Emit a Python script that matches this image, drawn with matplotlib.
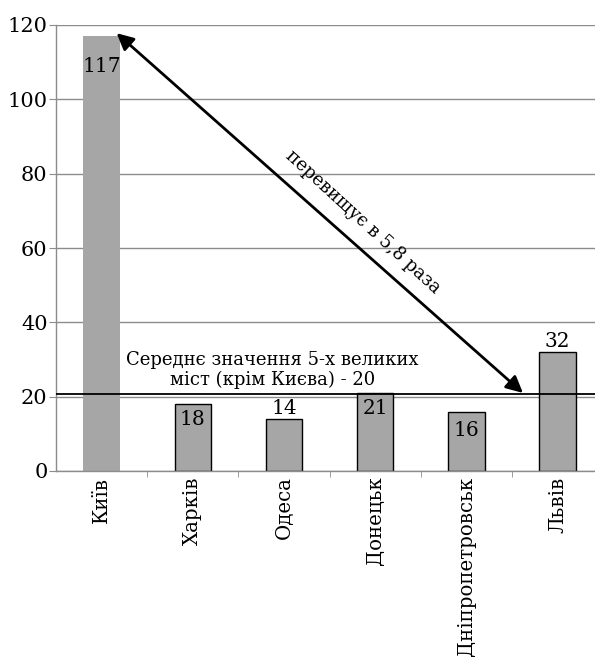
import matplotlib

matplotlib.use("Agg")
import matplotlib.pyplot as plt

# data
cities = ["Київ", "Харків", "Одеса", "Донецьк", "Дніпропетровськ", "Львів"]
values = [117, 18, 14, 21, 16, 32]
avg_value = 20.6
avg_label = "Середнє значення 5-х великих\nміст (крім Києва) - 20"
ratio_label = "перевищує в 5,8 раза"
arrow_from = (0.165, 117.8)
arrow_to = (4.62, 21.0)

# label offsets in points (negative = inside bar)
label_offsets = [-15, -4, 1, -4, -7, 1]

plt.rcParams["font.family"] = ["DejaVu Serif"]

GRID = "#8c8c8c"
BAR = "#a6a6a6"

fig = plt.figure(figsize=(5.95, 6.66), dpi=100)
ax = fig.add_axes([56 / 595, 1 - 471 / 666, 1 - 56 / 595, (471 - 25) / 666])

xs = list(range(len(cities)))
edges = ["none"] + ["black"] * (len(cities) - 1)
ax.bar(xs, values, width=0.4, color=BAR, edgecolor=edges, linewidth=1.0, zorder=2)

for x, v, off in zip(xs, values, label_offsets):
    ax.annotate(str(v), (x, v), xytext=(0, off), textcoords="offset points",
                ha="center", va="bottom" if off > 0 else "top", fontsize=14.5, zorder=4)

ax.set_xlim(-0.5, 5.41)
ax.set_ylim(0, 120)
ax.set_yticks(range(0, 121, 20))
ax.yaxis.grid(True, color=GRID, linewidth=1.0, zorder=0)
ax.set_axisbelow(True)

ax.set_xticks(xs)
ax.set_xticklabels(cities, rotation=90, fontsize=14.2, va="top")
ax.set_xticks([x + 0.5 for x in xs[:-1]], minor=True)
ax.tick_params(axis="x", which="major", length=0, pad=4)
ax.tick_params(axis="x", which="minor", length=4, color=GRID, direction="out")
ax.tick_params(axis="y", length=5, color=GRID, labelsize=15, pad=1)

for s in ("top", "right"):
    ax.spines[s].set_visible(False)
for s in ("left", "bottom"):
    ax.spines[s].set_color(GRID)
    ax.spines[s].set_linewidth(1.0)

ax.axhline(avg_value, color="black", linewidth=1.3, zorder=3)
ax.text(1.875, 23.1, avg_label, ha="center", va="baseline", fontsize=13,
        linespacing=1.15, zorder=4)

ax.annotate("", xy=arrow_from, xytext=arrow_to,
            arrowprops=dict(arrowstyle="<|-|>", color="black", lw=2,
                            mutation_scale=25, shrinkA=0, shrinkB=0),
            zorder=5)
ax.text(2.87, 67.0, ratio_label, rotation=-42.5, rotation_mode="anchor",
        ha="center", va="center", fontsize=13, zorder=4)

fig.savefig("out.png", dpi=100)
